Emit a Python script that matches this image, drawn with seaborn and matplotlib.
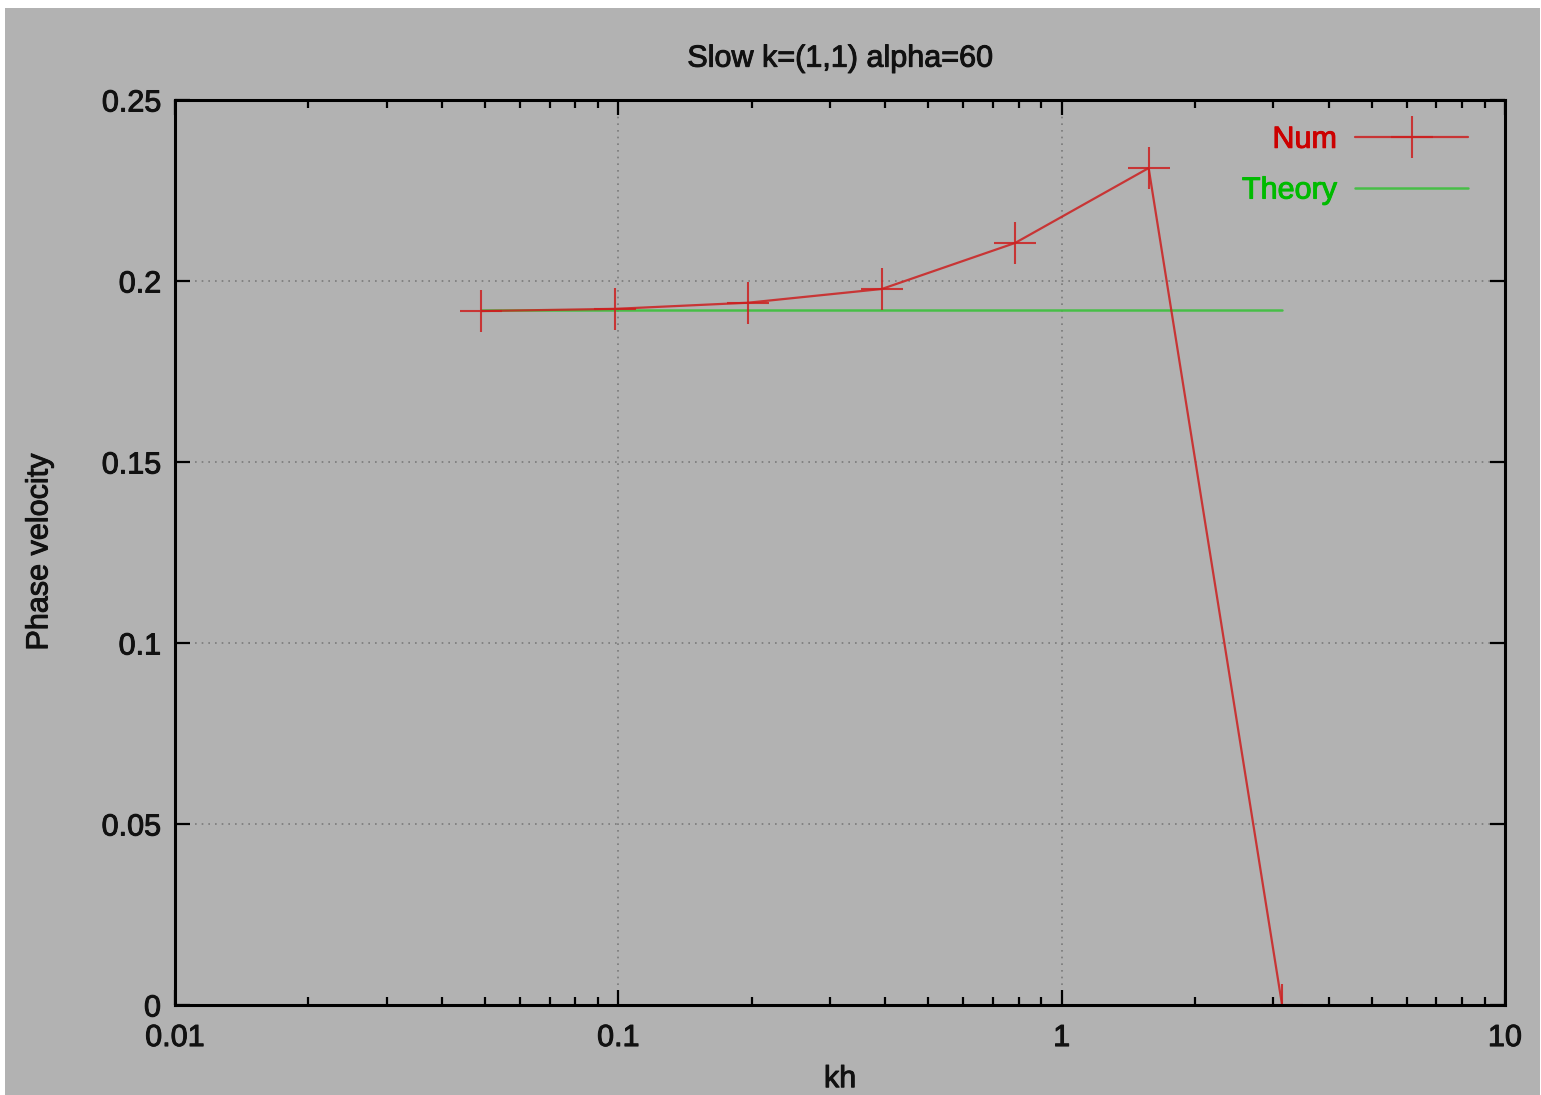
import numpy as np
import pandas as pd
import seaborn as sns
import matplotlib.pyplot as plt
import matplotlib.patheffects as pe
from matplotlib.patches import Rectangle
from matplotlib.ticker import LogLocator, FixedLocator, FuncFormatter

# data
kh_num = [0.0491, 0.0982, 0.196, 0.393, 0.785, 1.571, 3.1416]
vel_num = [0.1917, 0.1923, 0.1940, 0.1978, 0.2105, 0.2312, 0.0]
kh_theory = [0.0491, 3.1416]
vel_theory = [0.192, 0.192]

df_num = pd.DataFrame({'kh': kh_num, 'v': vel_num})
df_th = pd.DataFrame({'kh': kh_theory, 'v': vel_theory})

sns.set_style('ticks')
plt.rcParams['font.family'] = ['Liberation Sans', 'DejaVu Sans']
plt.rcParams['text.color'] = '#111111'
plt.rcParams['axes.labelcolor'] = '#111111'

fig = plt.figure(figsize=(15.41, 10.95), dpi=100)
fig.patch.set_facecolor('white')
fig.patches.append(Rectangle((5 / 1541, 0), 1535 / 1541, 1 - 8 / 1095,
                             transform=fig.transFigure, facecolor='#b2b2b2',
                             edgecolor='none', zorder=-10))
ax = fig.add_axes([175 / 1541, 1 - 1005 / 1095, 1330 / 1541, 905 / 1095])
ax.set_facecolor('#b2b2b2')

red = '#cc1f1f'
green = '#3cc03c'
sns.lineplot(data=df_num, x='kh', y='v', ax=ax, color=red, lw=1.6, marker='+',
             markersize=30, markeredgewidth=1.5, markeredgecolor=red,
             label='Num', alpha=0.85)
sns.lineplot(data=df_th, x='kh', y='v', ax=ax, color=green, lw=1.8,
             label='Theory', alpha=0.9, zorder=1)

ax.set_xscale('log')
ax.set_xlim(0.01, 10)
ax.set_ylim(0, 0.25)
ax.xaxis.set_major_locator(FixedLocator([0.01, 0.1, 1, 10]))
ax.xaxis.set_major_formatter(FuncFormatter(lambda v, p: '%g' % v))
ax.xaxis.set_minor_locator(LogLocator(base=10, subs=np.arange(2, 10)))
ax.yaxis.set_major_locator(FixedLocator([0, 0.05, 0.1, 0.15, 0.2, 0.25]))
ax.yaxis.set_major_formatter(FuncFormatter(lambda v, p: '%g' % v))

ax.tick_params(which='both', direction='in', top=True, right=True,
               labelsize=22, colors='black', labelcolor='#111111', width=1.6)
ax.tick_params(which='major', length=11)
ax.tick_params(axis='x', which='major', pad=13)
ax.tick_params(axis='y', which='major', pad=10)
ax.tick_params(which='minor', length=6)
for s in ax.spines.values():
    s.set_linewidth(2.2)
    s.set_color('black')

ax.grid(True, which='major', color='#7a7a7a', linestyle=(0, (1, 3)), lw=1.2)

ax.set_title('Slow k=(1,1) alpha=60', fontsize=22, pad=24)
ax.set_xlabel('kh', fontsize=22, labelpad=8)
ax.set_ylabel('Phase velocity', fontsize=22, labelpad=34)

leg = ax.legend(loc='upper right', frameon=False, markerfirst=False,
                fontsize=22, handlelength=3.7, labelspacing=0.68,
                handletextpad=0.6, bbox_to_anchor=(0.993, 1.003))
for t, c in zip(leg.get_texts(), ['#cc0000', '#00bb00']):
    t.set_color(c)

# thicken the text a little, like the reference's rendering
thick = [pe.withStroke(linewidth=0.7, foreground='#111111')]
for t in [ax.title, ax.xaxis.label, ax.yaxis.label] + ax.get_xticklabels() + ax.get_yticklabels():
    t.set_path_effects(thick)
for t, c in zip(leg.get_texts(), ['#cc0000', '#00bb00']):
    t.set_path_effects([pe.withStroke(linewidth=0.7, foreground=c)])

plt.savefig('out.png', dpi=100)
